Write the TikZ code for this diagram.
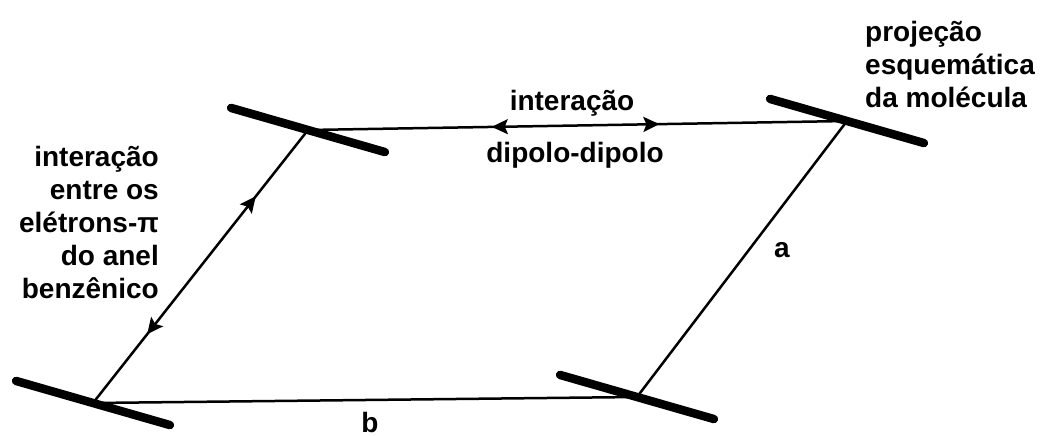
\documentclass[tikz,border=0pt]{standalone}
\usepackage{fontspec}
\setmainfont{Liberation Sans}
\usetikzlibrary{calc,arrows.meta,decorations.markings}

\tikzset{
  molbar/.style={line width=8.5pt, line cap=round},
  link/.style={line width=2.5pt},
  lbl/.style={font=\bfseries\fontsize{28}{33}\selectfont, inner sep=0pt},
  tip/.tip={Stealth[length=16pt, width=15pt, inset=3pt]},
  fwd/.style={postaction={decorate, decoration={markings,
      mark=at position #1 with {\arrow{tip}}}}},
  bwd/.style={postaction={decorate, decoration={markings,
      mark=at position #1 with {\arrowreversed{tip}}}}}
}

\begin{document}
\begin{tikzpicture}[x=1pt, y=-1pt]
            \useasboundingbox (0,0) rectangle (1043,436);

            % Molecule centres
            \coordinate (tl) at (308,130);
            \coordinate (tr) at (847,121);
            \coordinate (bl) at (93,403);
            \coordinate (br) at (637,397);

            % Connections
            \draw[link, fwd=0.652, bwd=0.341] (tl) -- (tr);
            \draw[link, fwd=0.757, bwd=0.252] (bl) -- (tl);
            \draw[link] (bl) -- (br);
            \draw[link] (br) -- (tr);

            % Molecules
            \foreach \m in {tl,tr,bl,br}
                \draw[molbar] ($(\m)+(16:-80)$) -- ($(\m)+(16:80)$);

            % Labels
            \node[lbl] (dd1) at (572,103) {interação};
            \node[lbl] (dd2) at (575,155) {dipolo-dipolo};
            \node[lbl] (la) at (782,250) {a};
            \node[lbl] (lb) at (370,422) {b};
            \node[lbl, anchor=east, align=right] (pi) at (159,222)
                {interação\\entre os\\elétrons-π\\do anel\\benzênico};
            \node[lbl, anchor=west, align=left] (proj) at (865,64)
                {projeção\\esquemática\\da molécula};
        \end{tikzpicture}
\end{document}
